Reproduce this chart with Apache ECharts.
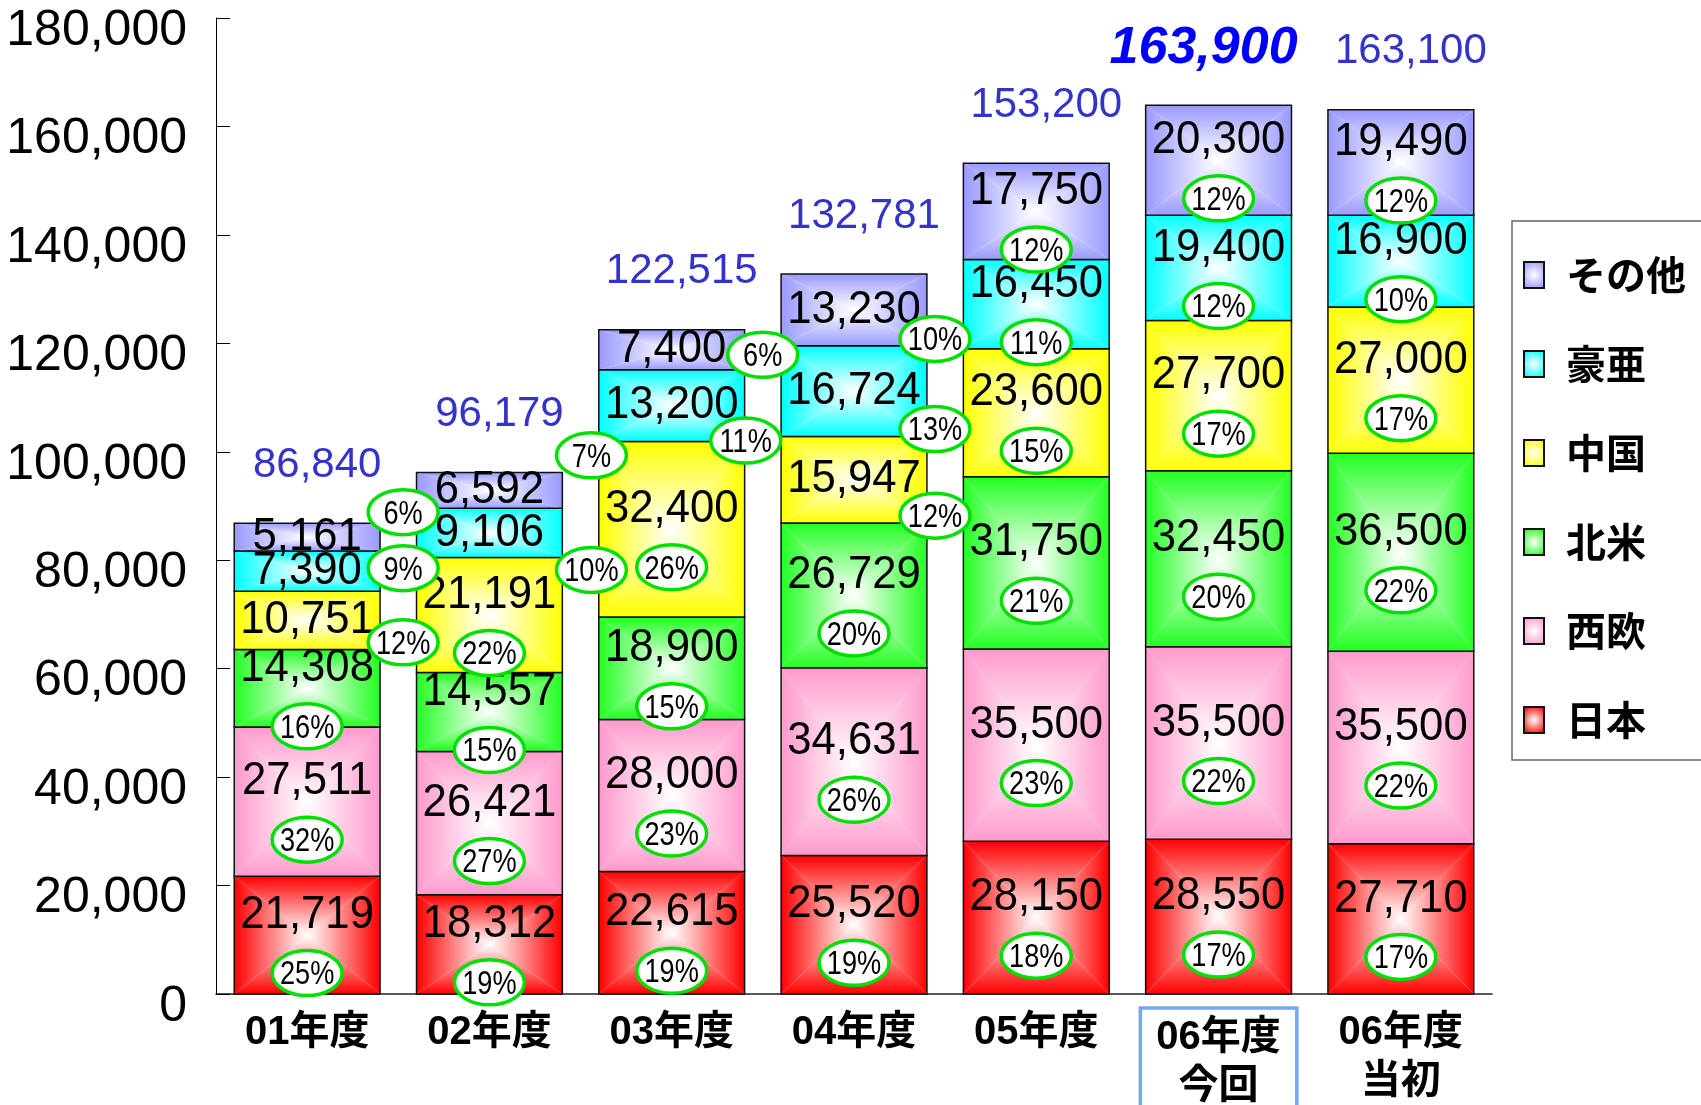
<!DOCTYPE html>
<html>
<head>
<meta charset="utf-8">
<script src="https://cdn.jsdelivr.net/npm/echarts@6/dist/echarts.min.js"></script>
<style>
  html, body { margin: 0; padding: 0; background: #fff; }
  #chart { width: 1701px; height: 1105px; }
</style>
</head>
<body>
<div id="chart"></div>
<script>
// 年度別・地域別 (値は図から読み取り)
const categories = ['01年度', '02年度', '03年度', '04年度', '05年度', '06年度\n今回', '06年度\n当初'];
const seriesNames = ['日本', '西欧', '北米', '中国', '豪亜', 'その他'];

const japan        = [21719, 18312, 22615, 25520, 28150, 28550, 27710];
const westEurope   = [27511, 26421, 28000, 34631, 35500, 35500, 35500];
const northAmerica = [14308, 14557, 18900, 26729, 31750, 32450, 36500];
const china        = [10751, 21191, 32400, 15947, 23600, 27700, 27000];
const ausAsia      = [7390, 9106, 13200, 16724, 16450, 19400, 16900];
const others       = [5161, 6592, 7400, 13230, 17750, 20300, 19490];
const totals       = [86840, 96179, 122515, 132781, 153200, 163900, 163100];

// 構成比 (%) 図の表示どおり
const japanPct  = [25, 19, 19, 19, 18, 17, 17];
const westPct   = [32, 27, 23, 26, 23, 22, 22];
const naPct     = [16, 15, 15, 20, 21, 20, 22];
const chinaPct  = [12, 22, 26, 12, 15, 17, 17];
const ausPct    = [9, 10, 11, 13, 11, 12, 10];
const othersPct = [6, 7, 6, 10, 12, 12, 12];

const values = [japan, westEurope, northAmerica, china, ausAsia, others];
const pcts = [japanPct, westPct, naPct, chinaPct, ausPct, othersPct];
const colors = ['#ff0000', '#ff99cc', '#22ff22', '#ffff00', '#00ffff', '#9999ff'];

// 棒の間に出している楕円 (カテゴリ -> 系列 -> [dx, dy] px)
const gapSlots = {
  0: { 5: [96, -25], 4: [96, -3], 3: [96, 22] },
  1: { 5: [102, -35], 4: [102, 37] },
  2: { 5: [91, 5], 4: [74, 35] },
  3: { 5: [81, 29], 4: [81, 38], 3: [81, 36] }
};

const FONT = '"Liberation Sans", Arial, sans-serif';
const JFONT = '"Liberation Sans", "Noto Sans CJK JP", sans-serif';

const fmt = v => v.toLocaleString('en-US');

// stacked ranges
const segData = values.map(() => []);
const pctItems = [];
for (let c = 0; c < categories.length; c++) {
  let base = 0;
  for (let s = 0; s < values.length; s++) {
    const v = values[s][c];
    segData[s].push([c, base, base + v, v]);
    const slot = gapSlots[c] && gapSlots[c][s];
    pctItems.push({ c: c, mid: base + v / 2, text: pcts[s][c] + '%', off: slot ? slot : [0, 38] });
    base += v;
  }
}

function makeSegRender(si) {
  return function (params, api) {
    const c = api.value(0), lo = api.value(1), hi = api.value(2), v = api.value(3);
    const pb = api.coord([c, lo]);
    const pt = api.coord([c, hi]);
    const w = api.size([1, 0])[0] * 0.8;
    const cx = pb[0], x0 = cx - w / 2, x1 = cx + w / 2;
    const yb = pb[1], yt = pt[1], cy = (yb + yt) / 2;
    const col = colors[si];
    const grad = (ax, ay, bx, by) => new echarts.graphic.LinearGradient(ax, ay, bx, by,
      [{ offset: 0, color: col }, { offset: 1, color: '#ffffff' }], true);
    const inGap = gapSlots[c] && gapSlots[c][si];
    return {
      type: 'group',
      children: [
        { type: 'polygon', shape: { points: [[x0, yt], [x1, yt], [cx, cy]] }, style: { fill: grad(0, yt, 0, cy) } },
        { type: 'polygon', shape: { points: [[x0, yb], [x1, yb], [cx, cy]] }, style: { fill: grad(0, yb, 0, cy) } },
        { type: 'polygon', shape: { points: [[x0, yt], [x0, yb], [cx, cy]] }, style: { fill: grad(x0, 0, cx, 0) } },
        { type: 'polygon', shape: { points: [[x1, yt], [x1, yb], [cx, cy]] }, style: { fill: grad(x1, 0, cx, 0) } },
        { type: 'rect', shape: { x: x0, y: yt, width: w, height: yb - yt }, style: { fill: 'none', stroke: '#111', lineWidth: 1.5 } },
        {
          type: 'text', z2: 50,
          x: cx, y: cy + (inGap ? 0 : -20), scaleX: 0.95,
          style: {
            text: fmt(v), x: 0, y: 0,
            align: 'center', verticalAlign: 'middle',
            font: '46px ' + FONT, fill: '#000'
          }
        }
      ]
    };
  };
}

const series = seriesNames.map((name, si) => ({
  name: name,
  type: 'custom',
  coordinateSystem: 'cartesian2d',
  encode: { x: 0, y: [1, 2] },
  itemStyle: {
    color: new echarts.graphic.RadialGradient(0.5, 0.5, 0.7, [
      { offset: 0, color: '#ffffff' }, { offset: 1, color: colors[si] }
    ]),
    borderColor: '#111',
    borderWidth: 1.5
  },
  renderItem: makeSegRender(si),
  data: segData[si]
}));

// 構成比の楕円
series.push({
  type: 'custom',
  coordinateSystem: 'cartesian2d',
  z: 10,
  encode: { x: 0, y: 1 },
  renderItem: function (params, api) {
    const it = pctItems[params.dataIndex];
    const p = api.coord([it.c, it.mid]);
    const x = p[0] + it.off[0], y = p[1] + it.off[1];
    return {
      type: 'group',
      children: [
        { type: 'ellipse', shape: { cx: x, cy: y, rx: 35, ry: 22.5 }, style: { fill: '#fff', stroke: '#00e000', lineWidth: 3.5 } },
        {
          type: 'text', x: x, y: y + 2, scaleX: 0.8,
          style: { text: it.text, x: 0, y: 0, align: 'center', verticalAlign: 'middle', font: '34px ' + FONT, fill: '#000' }
        }
      ]
    };
  },
  data: pctItems.map(it => [it.c, it.mid])
});

// 合計
series.push({
  type: 'custom',
  coordinateSystem: 'cartesian2d',
  z: 10,
  encode: { x: 0, y: 1 },
  renderItem: function (params, api) {
    const c = api.value(0), t = api.value(1);
    const p = api.coord([c, t]);
    const special = c === 5;
    return {
      type: 'text',
      style: {
        text: fmt(t), x: p[0] + (special ? -15 : 10), y: p[1] - (special ? 57 : 58),
        align: 'center', verticalAlign: 'middle',
        font: special ? 'italic bold 52px ' + FONT : '42px ' + FONT,
        fill: special ? '#0000ff' : '#3333cc',
        shadowColor: special ? '#9cc8ff' : 'transparent',
        shadowOffsetX: special ? 3 : 0,
        shadowOffsetY: special ? 3 : 0,
        shadowBlur: 0
      }
    };
  },
  data: totals.map((t, i) => [i, t])
});

const chart = echarts.init(document.getElementById('chart'));
chart.setOption({
  animation: false,
  backgroundColor: '#fff',
  grid: { left: 216, right: 209, top: 18, bottom: 111, containLabel: false, outerBoundsMode: 'none' },
  legend: {
    orient: 'vertical',
    left: 1512,
    top: 221,
    padding: [34, 60, 20, 11],
    borderColor: '#666',
    borderWidth: 1.5,
    icon: 'rect',
    itemWidth: 20,
    itemHeight: 26,
    itemGap: 49,
    data: ['その他', '豪亜', '中国', '北米', '西欧', '日本'],
    textStyle: {
      fontSize: 40, fontWeight: 'bold', color: '#000',
      fontFamily: '"Noto Sans CJK JP", sans-serif',
      lineHeight: 26, padding: [0, 0, 0, 17]
    }
  },
  xAxis: {
    type: 'category',
    data: categories.map((c, i) => i === 5 ? {
      value: c,
      textStyle: { borderColor: '#78a6f6', borderWidth: 3.5, padding: [5, 16, 40, 16] }
    } : c),
    axisLine: { lineStyle: { color: '#222', width: 1.5 } },
    axisTick: { inside: true, length: 10, lineStyle: { color: '#222' } },
    axisLabel: {
      interval: 0, fontSize: 40, fontWeight: 'bold', lineHeight: 49,
      margin: 14, color: '#000', fontFamily: JFONT
    },
    splitLine: { show: false }
  },
  yAxis: {
    type: 'value',
    min: 0, max: 180000, interval: 20000,
    splitLine: { show: false },
    axisLine: { show: true, lineStyle: { color: '#000', width: 1 } },
    axisTick: { show: true, inside: true, length: 14, lineStyle: { color: '#000' } },
    axisLabel: {
      fontSize: 50, color: '#000', fontFamily: FONT, margin: 29,
      verticalAlign: 'top', lineHeight: 26,
      formatter: v => fmt(v)
    }
  },
  series: series
});
</script>
</body>
</html>
